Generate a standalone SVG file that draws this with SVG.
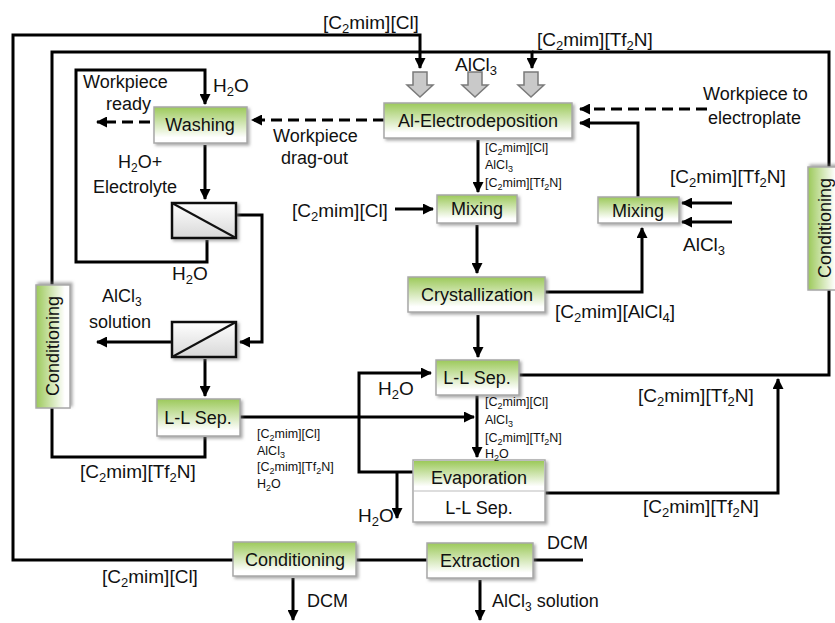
<svg xmlns="http://www.w3.org/2000/svg" width="835" height="623" viewBox="0 0 835 623">
<style>
.t{font-family:"Liberation Sans",Arial,sans-serif;font-size:18px;fill:#111}
.l{font-family:"Liberation Sans",Arial,sans-serif;font-size:19px;fill:#111}
.s{font-family:"Liberation Sans",Arial,sans-serif;font-size:12.5px;fill:#111}
.c{stroke:#000;stroke-width:3;fill:none}
.a{marker-end:url(#ah)}
.d{stroke-dasharray:11 6}
.box{fill:url(#g);stroke:#a8a8a8;stroke-width:1.5;filter:url(#sh)}
.wbox{fill:#fff;stroke:#a8a8a8;stroke-width:1.5}
.mem{fill:url(#mg);stroke:#111;stroke-width:2.5;filter:url(#sh)}
.gray{fill:#c9c9c9;stroke:#7a7a7a;stroke-width:1.5}
.m{text-anchor:middle}
</style>
<defs>
<linearGradient id="g" x1="0" y1="0" x2="0" y2="1">
<stop offset="0" stop-color="#9cc95a"/>
<stop offset="0.85" stop-color="#ffffff"/>
</linearGradient>
<linearGradient id="mg" x1="0" y1="0" x2="0" y2="1">
<stop offset="0" stop-color="#ffffff"/>
<stop offset="1" stop-color="#d8d8d8"/>
</linearGradient>
<filter id="sh" x="-10%" y="-10%" width="130%" height="140%">
<feDropShadow dx="2" dy="2" stdDeviation="1.5" flood-color="#777" flood-opacity="0.6"/>
</filter>
<marker id="ah" markerUnits="userSpaceOnUse" markerWidth="11" markerHeight="11" refX="10" refY="5.5" orient="auto">
<path d="M0,0 L11,5.5 L0,11 z" fill="#000"/>
</marker>
</defs>

<g id="connectors">
<path class="c a" d="M233,560 H13 V35 H420 V68"/>
<path class="c a" d="M205,437 V457 H52 V52 H532 V68"/>
<path class="c" d="M532,52 H829 V168"/>
<path class="c" d="M829,290 V375 H519"/>
<path class="c a" d="M207,240 V262 H76 V70 H205 V104"/>
<path class="c a" d="M205,145 V199"/>
<path class="c a" d="M236,215 H262 V342 H240"/>
<path class="c a" d="M172,342 H97"/>
<path class="c a" d="M205,359 V396"/>
<path class="c a" d="M240,417 H474"/>
<path class="c a d" d="M150,122 H97"/>
<path class="c a d" d="M384,120 H252"/>
<path class="c a d" d="M707,109 H580"/>
<path class="c a" d="M638,197 V123 H580"/>
<path class="c a" d="M732,203 H682"/>
<path class="c a" d="M732,222 H682"/>
<path class="c a" d="M545,292 H642 V228"/>
<path class="c a" d="M478,140 V192"/>
<path class="c a" d="M395,209 H433"/>
<path class="c a" d="M477,225 V273"/>
<path class="c a" d="M478,315 V357"/>
<path class="c a" d="M477,395 V457"/>
<path class="c a" d="M413,472 H359 V373 H431"/>
<path class="c a" d="M397,472 V518"/>
<path class="c a" d="M545,493 H778 V379"/>
<path class="c" d="M356,560 H427"/>
<path class="c" d="M533,560 H583"/>
<path class="c a" d="M293,578 V620"/>
<path class="c a" d="M480,580 V620"/>
</g>

<g id="feed-arrows">
<polygon class="gray" points="413,72 427,72 427,85 433,85 420,97 407,85 413,85"/>
<polygon class="gray" points="468,72 482,72 482,85 488,85 475,97 462,85 468,85"/>
<polygon class="gray" points="524,72 538,72 538,85 544,85 531,97 518,85 524,85"/>
</g>

<g id="al-electrodeposition">
<rect class="box" x="384" y="103" width="188" height="35"/>
<text class="t m" x="478" y="127">Al-Electrodeposition</text>
</g>
<g id="washing">
<rect class="box" x="154" y="107" width="93" height="36"/>
<text class="t m" x="200" y="131">Washing</text>
</g>
<g id="membrane1">
<rect class="mem" x="172" y="203" width="64" height="35"/>
<line x1="172" y1="203" x2="236" y2="238" stroke="#111" stroke-width="2"/>
</g>
<g id="membrane2">
<rect class="mem" x="172" y="322" width="64" height="35"/>
<line x1="172" y1="357" x2="236" y2="322" stroke="#111" stroke-width="2"/>
</g>
<g id="ll-sep-left">
<rect class="box" x="157" y="399" width="83" height="37"/>
<text class="t m" x="198" y="424">L-L Sep.</text>
</g>
<g id="conditioning-left">
<rect class="box" x="-408" y="36" width="123" height="34" transform="rotate(-90)"/>
<text class="t m" x="-346" y="59" transform="rotate(-90)">Conditioning</text>
</g>
<g id="conditioning-right">
<rect class="box" x="-290" y="808" width="123" height="32" transform="rotate(-90)"/>
<text class="t m" x="-228" y="831" transform="rotate(-90)">Conditioning</text>
</g>
<g id="mixing-center">
<rect class="box" x="437" y="195" width="80" height="28"/>
<text class="t m" x="477" y="215">Mixing</text>
</g>
<g id="mixing-right">
<rect class="box" x="598" y="197" width="81" height="26"/>
<text class="t m" x="638" y="217">Mixing</text>
</g>
<g id="crystallization">
<rect class="box" x="408" y="277" width="137" height="35"/>
<text class="t m" x="477" y="301">Crystallization</text>
</g>
<g id="ll-sep-center">
<rect class="box" x="436" y="360" width="83" height="35"/>
<text class="t m" x="477" y="384">L-L Sep.</text>
</g>
<g id="evaporation">
<rect class="wbox" x="413" y="460" width="132" height="62" filter="url(#sh)"/>
<rect x="414" y="461" width="130" height="30" fill="url(#g)"/>
<line x1="413" y1="491" x2="545" y2="491" stroke="#bbb" stroke-width="1"/>
<text class="t m" x="479" y="484">Evaporation</text>
<text class="t m" x="479" y="514">L-L Sep.</text>
</g>
<g id="conditioning-bottom">
<rect class="box" x="233" y="542" width="123" height="34"/>
<text class="t m" x="295" y="566">Conditioning</text>
</g>
<g id="extraction">
<rect class="box" x="427" y="543" width="106" height="35"/>
<text class="t m" x="480" y="567">Extraction</text>
</g>

<g id="labels">
<text class="l" x="323" y="29">[C<tspan font-size="13" dy="4">2</tspan><tspan dy="-4">mim][Cl]</tspan></text>
<text class="l" x="537" y="46">[C<tspan font-size="13" dy="4">2</tspan><tspan dy="-4">mim][Tf</tspan><tspan font-size="13" dy="4">2</tspan><tspan dy="-4">N]</tspan></text>
<text class="l" x="455" y="71">AlCl<tspan font-size="13" dy="4">3</tspan></text>
<text class="t" x="83" y="88">Workpiece</text>
<text class="t" x="106" y="110">ready</text>
<text class="l" x="213" y="92">H<tspan font-size="13" dy="4">2</tspan><tspan dy="-4">O</tspan></text>
<text class="t" x="118" y="168">H<tspan font-size="12" dy="4">2</tspan><tspan dy="-4">O+</tspan></text>
<text class="t" x="93" y="193">Electrolyte</text>
<text class="t" x="273" y="142">Workpiece</text>
<text class="t" x="281" y="164">drag-out</text>
<text class="t" x="703" y="100">Workpiece to</text>
<text class="t" x="708" y="124">electroplate</text>
<text class="l" x="670" y="183">[C<tspan font-size="13" dy="4">2</tspan><tspan dy="-4">mim][Tf</tspan><tspan font-size="13" dy="4">2</tspan><tspan dy="-4">N]</tspan></text>
<text class="l" x="683" y="251">AlCl<tspan font-size="13" dy="4">3</tspan></text>
<text class="l" x="292" y="217">[C<tspan font-size="13" dy="4">2</tspan><tspan dy="-4">mim][Cl]</tspan></text>
<text class="s" x="485" y="152">[C<tspan font-size="9" dy="3">2</tspan><tspan dy="-3">mim][Cl]</tspan></text>
<text class="s" x="485" y="169">AlCl<tspan font-size="9" dy="3">3</tspan></text>
<text class="s" x="485" y="187">[C<tspan font-size="9" dy="3">2</tspan><tspan dy="-3">mim][Tf</tspan><tspan font-size="9" dy="3">2</tspan><tspan dy="-3">N]</tspan></text>
<text class="l" x="555" y="318">[C<tspan font-size="13" dy="4">2</tspan><tspan dy="-4">mim][AlCl</tspan><tspan font-size="13" dy="4">4</tspan><tspan dy="-4">]</tspan></text>
<text class="l" x="172" y="280">H<tspan font-size="13" dy="4">2</tspan><tspan dy="-4">O</tspan></text>
<text class="t" x="102" y="302">AlCl<tspan font-size="12" dy="4">3</tspan></text>
<text class="t" x="89" y="328">solution</text>
<text class="l" x="80" y="478">[C<tspan font-size="13" dy="4">2</tspan><tspan dy="-4">mim][Tf</tspan><tspan font-size="13" dy="4">2</tspan><tspan dy="-4">N]</tspan></text>
<text class="s" x="257" y="438">[C<tspan font-size="9" dy="3">2</tspan><tspan dy="-3">mim][Cl]</tspan></text>
<text class="s" x="257" y="455">AlCl<tspan font-size="9" dy="3">3</tspan></text>
<text class="s" x="257" y="471">[C<tspan font-size="9" dy="3">2</tspan><tspan dy="-3">mim][Tf</tspan><tspan font-size="9" dy="3">2</tspan><tspan dy="-3">N]</tspan></text>
<text class="s" x="257" y="488">H<tspan font-size="9" dy="3">2</tspan><tspan dy="-3">O</tspan></text>
<text class="l" x="378" y="395">H<tspan font-size="13" dy="4">2</tspan><tspan dy="-4">O</tspan></text>
<text class="s" x="485" y="406">[C<tspan font-size="9" dy="3">2</tspan><tspan dy="-3">mim][Cl]</tspan></text>
<text class="s" x="485" y="424">AlCl<tspan font-size="9" dy="3">3</tspan></text>
<text class="s" x="485" y="442">[C<tspan font-size="9" dy="3">2</tspan><tspan dy="-3">mim][Tf</tspan><tspan font-size="9" dy="3">2</tspan><tspan dy="-3">N]</tspan></text>
<text class="s" x="485" y="458">H<tspan font-size="9" dy="3">2</tspan><tspan dy="-3">O</tspan></text>
<text class="l" x="638" y="402">[C<tspan font-size="13" dy="4">2</tspan><tspan dy="-4">mim][Tf</tspan><tspan font-size="13" dy="4">2</tspan><tspan dy="-4">N]</tspan></text>
<text class="l" x="358" y="522">H<tspan font-size="13" dy="4">2</tspan><tspan dy="-4">O</tspan></text>
<text class="l" x="643" y="513">[C<tspan font-size="13" dy="4">2</tspan><tspan dy="-4">mim][Tf</tspan><tspan font-size="13" dy="4">2</tspan><tspan dy="-4">N]</tspan></text>
<text class="t" x="547" y="549">DCM</text>
<text class="l" x="102" y="583">[C<tspan font-size="13" dy="4">2</tspan><tspan dy="-4">mim][Cl]</tspan></text>
<text class="t" x="307" y="607">DCM</text>
<text class="t" x="492" y="607">AlCl<tspan font-size="12" dy="4">3</tspan><tspan dy="-4"> solution</tspan></text>
</g>
</svg>
